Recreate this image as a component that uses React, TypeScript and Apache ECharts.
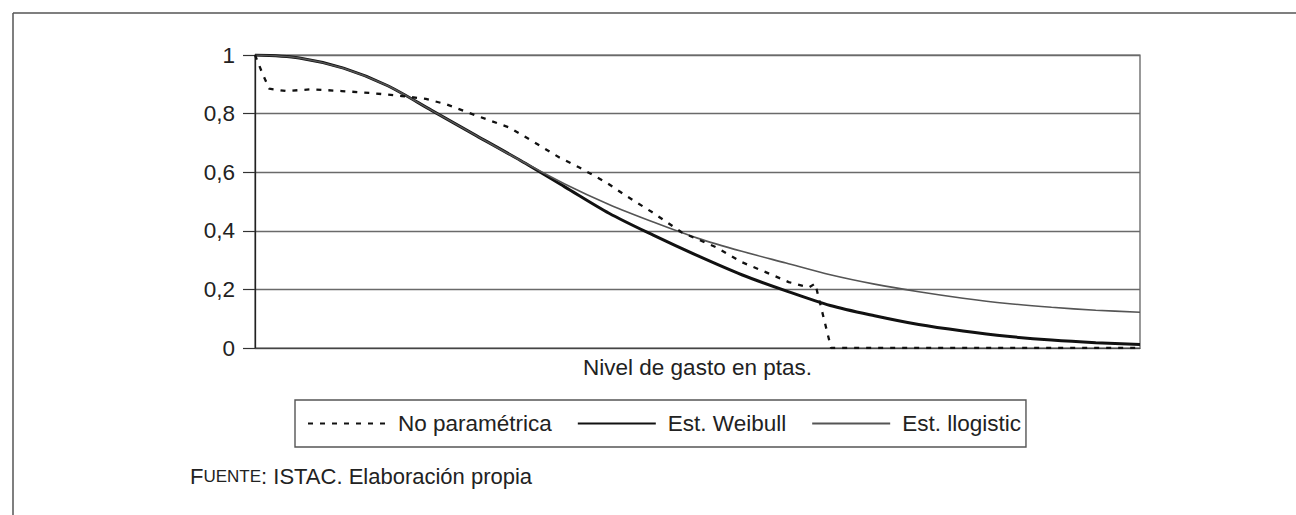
import React, { useEffect, useRef } from "react";
import * as echarts from "echarts";

// Y-axis ticks
const yTicks = [0, 0.2, 0.4, 0.6, 0.8, 1];

// Parametric estimates, read at regular positions along the expenditure axis (0-100 scale)
const paramX = [0, 5, 10, 15, 20, 25, 30, 35, 40, 45, 50, 55, 60, 65, 70, 75, 80, 85, 90, 95, 100];
const weibullY = [1.0, 0.99, 0.955, 0.895, 0.81, 0.725, 0.64, 0.55, 0.46, 0.385, 0.315, 0.25, 0.195, 0.145, 0.11, 0.08, 0.058, 0.04, 0.027, 0.018, 0.012];
const llogisticY = [1.0, 0.99, 0.955, 0.895, 0.81, 0.725, 0.64, 0.56, 0.49, 0.43, 0.375, 0.33, 0.29, 0.25, 0.218, 0.192, 0.17, 0.152, 0.139, 0.129, 0.122];

// Non-parametric estimate
const noParamX = [0, 0.8, 1.6, 3.5, 6.4, 9.8, 13.2, 16.6, 19.3, 21.6, 25.3, 28.7, 31.3, 34.4, 36.6, 39.7, 41.9, 44.9, 48.2, 52.1, 55.0, 57.7, 60.3, 62.6, 63.3, 65.1, 100];
const noParamY = [1.0, 0.94, 0.885, 0.877, 0.883, 0.877, 0.87, 0.86, 0.85, 0.832, 0.79, 0.753, 0.707, 0.65, 0.617, 0.565, 0.52, 0.463, 0.395, 0.344, 0.293, 0.259, 0.225, 0.207, 0.22, 0, 0];

const seriesNames = ["No paramétrica", "Est. Weibull", "Est. llogistic"];
const xAxisTitle = "Nivel de gasto en ptas.";
const sourceText = "{a|F}{b|UENTE}: ISTAC. Elaboración propia";

const FONT = "'Liberation Sans', Arial, Helvetica, sans-serif";
const FS = 22.5;

function zip(xs: number[], ys: number[]) {
  return xs.map((x, i) => [x, ys[i]]);
}

export default function App() {
  const ref = useRef<HTMLDivElement>(null);
  useEffect(() => {
    if (!ref.current) return;
    const chart = echarts.init(ref.current, undefined, { renderer: "svg" });
    chart.setOption({
      animation: false,
      backgroundColor: "#fff",
      textStyle: { fontFamily: FONT },
      grid: {
        left: 255,
        right: 156,
        top: 55,
        bottom: 167,
        show: true,
        borderColor: "#555",
        borderWidth: 1.2,
      },
      xAxis: {
        type: "value",
        min: 0,
        max: 100,
        name: xAxisTitle,
        nameLocation: "middle",
        nameGap: 8,
        nameTextStyle: { fontSize: FS, color: "#222", fontFamily: FONT },
        axisLine: { show: true, lineStyle: { color: "#444", width: 1.2 } },
        axisTick: { show: false },
        axisLabel: { show: false },
        splitLine: { show: false },
      },
      yAxis: {
        type: "value",
        min: yTicks[0],
        max: yTicks[yTicks.length - 1],
        interval: 0.2,
        axisLine: { show: true, lineStyle: { color: "#222", width: 1.3 } },
        axisTick: { show: true, length: 12, lineStyle: { color: "#333", width: 1.2 } },
        axisLabel: {
          margin: 20,
          fontSize: FS,
          color: "#222",
          fontFamily: FONT,
          formatter: (v: number) => String(Math.round(v * 10) / 10).replace(".", ","),
        },
        splitLine: { show: true, lineStyle: { color: "#6a6a6a", width: 1.3 } },
      },
      legend: {
        data: seriesNames,
        left: 295,
        top: 400,
        orient: "horizontal",
        padding: [12, 5, 12, 12],
        itemWidth: 78,
        itemHeight: 20,
        itemGap: 25,
        borderColor: "#555",
        borderWidth: 1.4,
        backgroundColor: "#fff",
        itemStyle: { opacity: 0 },
        textStyle: { fontSize: FS, color: "#222", fontFamily: FONT, padding: [0, 0, 0, 7] },
      },
      graphic: [
        { type: "line", shape: { x1: 13, y1: 13, x2: 1296, y2: 13 }, style: { stroke: "#555", lineWidth: 1.5 } },
        { type: "line", shape: { x1: 13, y1: 13, x2: 13, y2: 515 }, style: { stroke: "#555", lineWidth: 1.5 } },
        {
          type: "text",
          left: 190,
          top: 465,
          style: {
            text: sourceText,
            fontSize: 22,
            fontFamily: FONT,
            fill: "#222",
            rich: {
              a: { fontSize: 22, fontFamily: FONT, fill: "#222" },
              b: { fontSize: 17, fontFamily: FONT, fill: "#222" },
            },
          },
        },
      ],
      series: [
        {
          name: seriesNames[0],
          type: "line",
          symbol: "none",
          data: zip(noParamX, noParamY),
          lineStyle: { color: "#111", width: 2.3, type: [5, 7] },
          itemStyle: { color: "#111" },
          z: 3,
        },
        {
          name: seriesNames[1],
          type: "line",
          symbol: "none",
          smooth: 0.3,
          data: zip(paramX, weibullY),
          lineStyle: { color: "#111", width: 3 },
          itemStyle: { color: "#111" },
          z: 2,
        },
        {
          name: seriesNames[2],
          type: "line",
          symbol: "none",
          smooth: 0.3,
          data: zip(paramX, llogisticY),
          lineStyle: { color: "#555", width: 1.6 },
          itemStyle: { color: "#555" },
          z: 2,
        },
      ],
    });
    return () => chart.dispose();
  }, []);
  return (
    <div
      ref={ref}
      style={{ position: "absolute", left: 0, top: 0, width: 1296, height: 515 }}
    />
  );
}
